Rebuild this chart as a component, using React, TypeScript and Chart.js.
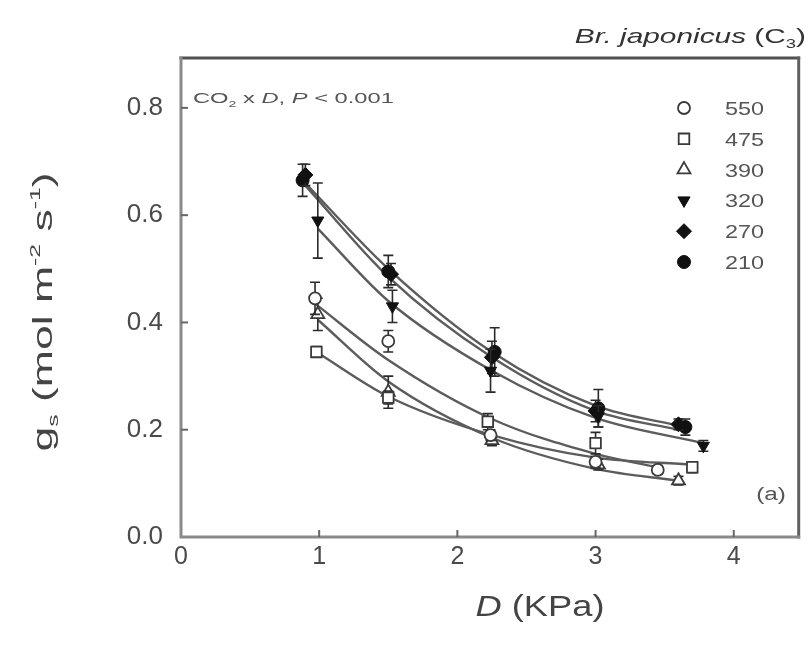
import React, { useEffect, useRef } from "react";
import { Chart, registerables } from "chart.js";
import { drawPoint } from "chart.js/helpers";

Chart.register(...registerables);

// ---- data ----
const SERIES_LABELS = ["550", "475", "390", "320", "270", "210"];
const X_TICKS = [0, 1, 2, 3, 4];
const Y_TICKS = [0, 0.2, 0.4, 0.6, 0.8];

const D_550 = [0.97, 1.5, 2.24, 3.0, 3.45];
const G_550 = [0.445, 0.365, 0.19, 0.14, 0.125];
const E_550 = [0.03, 0.02, 0.01, 0.01, 0.008];

const D_475 = [0.98, 1.5, 2.22, 3.0, 3.7];
const G_475 = [0.345, 0.26, 0.215, 0.175, 0.13];
const E_475 = [0.01, 0.012, 0.015, 0.02, 0.01];

const D_390 = [0.99, 1.5, 2.25, 3.02, 3.6];
const G_390 = [0.415, 0.27, 0.18, 0.135, 0.105];
const E_390 = [0.03, 0.03, 0.01, 0.01, 0.008];

const D_320 = [0.99, 1.53, 2.24, 3.02, 3.78];
const G_320 = [0.59, 0.43, 0.31, 0.225, 0.17];
const E_320 = [0.07, 0.03, 0.04, 0.02, 0.01];

const D_270 = [0.9, 1.52, 2.25, 3.0, 3.6];
const G_270 = [0.675, 0.49, 0.335, 0.235, 0.21];
const E_270 = [0.02, 0.02, 0.03, 0.02, 0.01];

const D_210 = [0.88, 1.5, 2.27, 3.02, 3.65];
const G_210 = [0.665, 0.495, 0.345, 0.24, 0.205];
const E_210 = [0.03, 0.03, 0.045, 0.035, 0.015];

// fitted curves
const FX_550 = [0.97, 1.5, 2.25, 3.0, 3.45];
const FY_550 = [0.435, 0.33, 0.22, 0.155, 0.13];
const FX_475 = [0.98, 1.5, 2.25, 3.0, 3.7];
const FY_475 = [0.345, 0.262, 0.19, 0.148, 0.135];
const FX_390 = [0.99, 1.5, 2.25, 3.0, 3.6];
const FY_390 = [0.405, 0.29, 0.185, 0.127, 0.105];
const FX_320 = [0.99, 1.5, 2.25, 3.0, 3.78];
const FY_320 = [0.575, 0.44, 0.31, 0.222, 0.175];
const FX_270 = [0.9, 1.5, 2.25, 3.0, 3.6];
const FY_270 = [0.655, 0.485, 0.335, 0.235, 0.2];
const FX_210 = [0.88, 1.5, 2.25, 3.0, 3.65];
const FY_210 = [0.665, 0.5, 0.345, 0.245, 0.205];

const X_MIN = 0;
const X_MAX = 4.47;
const Y_MIN = 0;
const Y_MAX = 0.893;

type Sty = { pointStyle: string; radius: number; rotation: number; bg: string; border: string; bw: number };
const STYLES: Sty[] = [
  { pointStyle: "circle", radius: 6, rotation: 0, bg: "#ffffff", border: "#3a3a3a", bw: 1.8 },
  { pointStyle: "rect", radius: 7.5, rotation: 0, bg: "#ffffff", border: "#3a3a3a", bw: 1.8 },
  { pointStyle: "triangle", radius: 7.5, rotation: 0, bg: "#ffffff", border: "#3a3a3a", bw: 1.8 },
  { pointStyle: "triangle", radius: 7, rotation: 180, bg: "#111111", border: "#111111", bw: 1 },
  { pointStyle: "rectRot", radius: 7.5, rotation: 0, bg: "#111111", border: "#111111", bw: 1 },
  { pointStyle: "circle", radius: 6.5, rotation: 0, bg: "#111111", border: "#111111", bw: 1 },
];

const POINTS = [
  [D_550, G_550, E_550],
  [D_475, G_475, E_475],
  [D_390, G_390, E_390],
  [D_320, G_320, E_320],
  [D_270, G_270, E_270],
  [D_210, G_210, E_210],
];
const FITS = [
  [FX_550, FY_550],
  [FX_475, FY_475],
  [FX_390, FY_390],
  [FX_320, FY_320],
  [FX_270, FY_270],
  [FX_210, FY_210],
];

const FONT = "'Liberation Sans', Arial, sans-serif";

type Part = { t: string; size: number; italic?: boolean; dy?: number };
function drawRich(
  ctx: CanvasRenderingContext2D,
  parts: Part[],
  x: number,
  y: number,
  align: "left" | "center" | "right",
  hScale = 1
) {
  const fontOf = (p: Part) => `${p.italic ? "italic " : ""}${p.size}px ${FONT}`;
  let total = 0;
  for (const p of parts) {
    ctx.font = fontOf(p);
    total += ctx.measureText(p.t).width;
  }
  ctx.save();
  ctx.translate(x, y);
  ctx.scale(hScale, 1);
  let cx = align === "left" ? 0 : align === "center" ? -total / 2 : -total;
  ctx.textAlign = "left";
  ctx.textBaseline = "alphabetic";
  for (const p of parts) {
    ctx.font = fontOf(p);
    ctx.fillText(p.t, cx, p.dy || 0);
    cx += ctx.measureText(p.t).width;
  }
  ctx.restore();
}

const decorPlugin = {
  id: "decor",
  beforeDatasetDraw(chart: any, args: any) {
    const ds = chart.data.datasets[args.index];
    if (!ds._err) return;
    const ctx = chart.ctx;
    const xs = chart.scales.x;
    const ys = chart.scales.y;
    ctx.save();
    ctx.strokeStyle = "#2a2a2a";
    ctx.lineWidth = 1.6;
    ds.data.forEach((p: any, i: number) => {
      const e = ds._err[i];
      const px = xs.getPixelForValue(p.x);
      const y1 = ys.getPixelForValue(p.y + e);
      const y2 = ys.getPixelForValue(p.y - e);
      ctx.beginPath();
      ctx.moveTo(px, y1);
      ctx.lineTo(px, y2);
      ctx.moveTo(px - 5, y1);
      ctx.lineTo(px + 5, y1);
      ctx.moveTo(px - 5, y2);
      ctx.lineTo(px + 5, y2);
      ctx.stroke();
    });
    ctx.restore();
  },
  afterDraw(chart: any) {
    const ctx: CanvasRenderingContext2D = chart.ctx;
    const a = chart.chartArea;
    const xs = chart.scales.x;
    const ys = chart.scales.y;
    ctx.save();
    // frame
    ctx.lineCap = "square";
    ctx.strokeStyle = "#505050";
    ctx.lineWidth = 3;
    ctx.beginPath();
    ctx.moveTo(a.left, a.top);
    ctx.lineTo(a.right, a.top);
    ctx.stroke();
    ctx.strokeStyle = "#606060";
    ctx.beginPath();
    ctx.moveTo(a.right, a.top);
    ctx.lineTo(a.right, a.bottom);
    ctx.stroke();
    ctx.strokeStyle = "#8a8a8a";
    ctx.beginPath();
    ctx.moveTo(a.left, a.top);
    ctx.lineTo(a.left, a.bottom);
    ctx.lineTo(a.right, a.bottom);
    ctx.stroke();
    // inward ticks
    ctx.strokeStyle = "#666";
    ctx.lineWidth = 2;
    ctx.lineCap = "butt";
    X_TICKS.forEach((v) => {
      if (v === 0) return;
      const px = xs.getPixelForValue(v);
      ctx.beginPath();
      ctx.moveTo(px, a.bottom);
      ctx.lineTo(px, a.bottom - 7);
      ctx.stroke();
    });
    Y_TICKS.forEach((v) => {
      if (v === 0) return;
      const py = ys.getPixelForValue(v);
      ctx.beginPath();
      ctx.moveTo(a.left, py);
      ctx.lineTo(a.left + 7, py);
      ctx.stroke();
    });

    // legend
    const lx = 684;
    const ly0 = 108;
    const step = 30.8;
    STYLES.forEach((s, i) => {
      const y = ly0 + step * i;
      ctx.fillStyle = s.bg;
      ctx.strokeStyle = s.border;
      ctx.lineWidth = s.bw;
      drawPoint(ctx, { pointStyle: s.pointStyle as any, radius: s.radius, rotation: s.rotation, borderWidth: s.bw }, lx, y);
      ctx.fillStyle = "#555";
      drawRich(ctx, [{ t: SERIES_LABELS[i], size: 18 }], 725, y + 7, "left", 1.3);
    });

    // annotation
    ctx.fillStyle = "#555";
    drawRich(
      ctx,
      [
        { t: "CO", size: 15 },
        { t: "2", size: 9, dy: 4 },
        { t: " x ", size: 15 },
        { t: "D", size: 15, italic: true },
        { t: ", ", size: 15 },
        { t: "P", size: 15, italic: true },
        { t: " < 0.001", size: 15 },
      ],
      193,
      103,
      "left",
      1.58
    );
    // (a)
    drawRich(ctx, [{ t: "(a)", size: 18 }], 771, 500, "center", 1.35);

    // top-right title
    ctx.fillStyle = "#333";
    drawRich(
      ctx,
      [
        { t: "Br. japonicus", size: 21, italic: true },
        { t: " (C", size: 21 },
        { t: "3", size: 13, dy: 5 },
        { t: ")", size: 21 },
      ],
      806,
      43,
      "right",
      1.42
    );

    // x title
    ctx.fillStyle = "#444";
    drawRich(
      ctx,
      [
        { t: "D", size: 29, italic: true },
        { t: " (KPa)", size: 29 },
      ],
      540,
      616,
      "center",
      1.25
    );

    // y title (rotated)
    ctx.translate(52, 312);
    ctx.rotate(-Math.PI / 2);
    ctx.fillStyle = "#444";
    drawRich(
      ctx,
      [
        { t: "g", size: 27 },
        { t: "s", size: 15, dy: 6 },
        { t: " (mol m", size: 27 },
        { t: "-2", size: 15, dy: -12 },
        { t: " s", size: 27 },
        { t: "-1", size: 15, dy: -12 },
        { t: ")", size: 27 },
      ],
      0,
      0,
      "center",
      1.65
    );
    ctx.restore();
  },
};

export default function App() {
  const ref = useRef<HTMLCanvasElement | null>(null);
  useEffect(() => {
    if (!ref.current) return;
    const datasets: any[] = [];
    FITS.forEach((f, i) => {
      datasets.push({
        label: "fit " + SERIES_LABELS[i],
        data: f[0].map((x, j) => ({ x, y: f[1][j] })),
        showLine: true,
        borderColor: "#5c5c5c",
        borderWidth: 2.4,
        pointRadius: 0,
        cubicInterpolationMode: "monotone",
        fill: false,
        order: 5,
      });
    });
    POINTS.forEach((p, i) => {
      const s = STYLES[i];
      datasets.push({
        label: SERIES_LABELS[i],
        data: p[0].map((x, j) => ({ x, y: p[1][j] })),
        _err: p[2],
        showLine: false,
        pointStyle: s.pointStyle,
        pointRadius: s.radius,
        pointRotation: s.rotation,
        pointBackgroundColor: s.bg,
        pointBorderColor: s.border,
        pointBorderWidth: s.bw,
        order: 1,
      });
    });
    const chart = new Chart(ref.current, {
      type: "scatter",
      data: { datasets },
      plugins: [decorPlugin],
      options: {
        animation: false,
        responsive: false,
        maintainAspectRatio: false,
        layout: { padding: { left: 0, right: 5, top: 58, bottom: 0 } },
        plugins: { legend: { display: false }, tooltip: { enabled: false } },
        scales: {
          x: {
            type: "linear",
            min: X_MIN,
            max: X_MAX,
            grid: { display: false, drawTicks: false },
            border: { display: false },
            afterBuildTicks: (sc: any) => {
              sc.ticks = X_TICKS.map((v) => ({ value: v }));
            },
            afterFit: (sc: any) => {
              sc.height = 111;
            },
            ticks: {
              padding: 5,
              color: "#4a4a4a",
              font: { family: FONT, size: 25 },
              callback: (v: any) => String(v),
              maxRotation: 0,
              autoSkip: false,
            },
          },
          y: {
            type: "linear",
            min: Y_MIN,
            max: Y_MAX,
            grid: { display: false, drawTicks: false },
            border: { display: false },
            afterBuildTicks: (sc: any) => {
              sc.ticks = Y_TICKS.map((v) => ({ value: v }));
            },
            afterFit: (sc: any) => {
              sc.width = 181;
            },
            ticks: {
              padding: 18,
              color: "#4a4a4a",
              font: { family: FONT, size: 26 },
              callback: (v: any) => Number(v).toFixed(1),
              autoSkip: false,
            },
          },
        },
      } as any,
    });
    return () => chart.destroy();
  }, []);
  return (
    <div style={{ position: "fixed", left: 0, top: 0, width: 808, height: 648, background: "#fff" }}>
      <canvas ref={ref} width={808} height={648} style={{ width: 808, height: 648, display: "block" }} />
    </div>
  );
}
